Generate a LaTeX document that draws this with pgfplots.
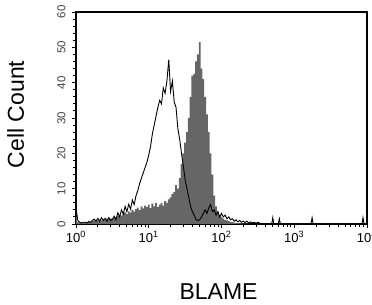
\documentclass[border=0pt]{standalone}
\usepackage{pgfplots}
\pgfplotsset{compat=1.18}
\usepackage{pgfplotstable}
\usepackage{fontspec}
\setmainfont{Liberation Sans}
\definecolor{histgray}{RGB}{102,102,102}
% x values are log10 of the fluorescence intensity
\pgfplotstableread{
lx g b
0.000 2.0 4.5
0.025 0.5 1.0
0.050 0.3 0.5
0.075 0.3 0.3
0.100 0.3 0.5
0.125 0.5 0.5
0.150 0.3 0.3
0.175 0.5 0.7
0.200 0.5 0.5
0.225 0.8 1.0
0.250 1.0 1.4
0.275 0.8 0.8
0.300 1.0 1.6
0.325 1.2 0.8
0.350 1.0 1.8
0.375 1.3 1.0
0.400 1.2 1.6
0.425 1.5 0.8
0.450 1.3 1.8
0.475 1.6 1.0
0.500 1.5 1.3
0.525 1.8 2.2
0.550 2.0 1.2
0.575 2.2 3.2
0.600 2.5 2.0
0.625 2.4 4.0
0.650 3.0 2.8
0.675 3.3 5.0
0.700 2.8 3.5
0.725 3.6 5.6
0.750 3.2 4.2
0.775 4.0 6.8
0.800 3.5 5.5
0.825 4.2 8.0
0.850 4.6 9.5
0.875 4.0 11.5
0.900 5.0 13.0
0.925 4.4 14.5
0.950 5.2 16.0
0.975 4.8 17.5
1.000 5.5 19.5
1.025 4.5 22.0
1.050 5.8 25.5
1.075 5.0 28.0
1.100 6.0 30.5
1.125 4.8 33.0
1.150 5.5 35.0
1.175 6.0 34.0
1.200 5.2 38.5
1.225 6.5 37.0
1.250 6.0 40.5
1.275 7.0 46.5
1.300 7.5 37.5
1.325 8.5 40.5
1.350 9.0 34.5
1.375 11.0 33.0
1.400 10.0 27.0
1.425 13.0 24.0
1.450 17.0 20.0
1.475 20.0 16.5
1.500 23.0 12.5
1.525 26.0 10.0
1.550 30.0 7.5
1.575 36.0 5.0
1.600 42.0 3.5
1.625 42.5 2.5
1.650 46.0 1.2
1.675 48.0 1.0
1.700 51.5 1.2
1.725 44.0 2.0
1.750 41.0 3.0
1.775 36.0 4.0
1.800 31.0 3.0
1.825 26.0 4.5
1.850 20.0 5.5
1.875 14.0 3.5
1.900 8.0 4.0
1.925 5.0 2.5
1.950 3.5 3.5
1.975 2.5 2.0
2.000 2.0 3.0
2.025 1.5 2.0
2.050 1.2 2.5
2.075 1.0 1.5
2.100 0.8 2.0
2.125 0.6 1.2
2.150 0.5 1.5
2.175 0.4 0.8
2.200 0.3 1.2
2.225 0.3 0.6
2.250 0.2 1.0
2.275 0.2 0.5
2.300 0.1 0.8
2.325 0.1 0.4
2.350 0.1 0.8
2.375 0.0 0.3
2.400 0.0 0.6
2.425 0.0 0.3
2.450 0.0 0.5
2.475 0.0 0.2
2.500 0.0 0.5
2.550 0.0 0.0
2.690 0.0 0.0
2.705 0.0 1.8
2.720 0.0 0.0
2.780 0.0 0.0
2.795 0.0 1.5
2.810 0.0 0.0
3.230 0.0 0.0
3.245 0.0 1.8
3.260 0.0 0.0
3.930 0.0 0.0
3.945 0.0 1.8
3.960 0.0 0.0
4.000 0.0 0.0
}\datatable
\begin{document}
\begin{tikzpicture}
\path[use as bounding box] (-76pt,-81pt) rectangle (296pt,224pt);
\begin{axis}[
  scale only axis,
  width=291pt, height=212pt,
  xmin=0, xmax=4, ymin=0, ymax=60,
  axis line style={line width=1.1pt},
  xtick={0,1,2,3,4},
  xticklabels={10\textsuperscript{0},10\textsuperscript{1},10\textsuperscript{2},10\textsuperscript{3},10\textsuperscript{4}},
  minor xtick={0.301,0.477,0.602,0.699,0.778,0.845,0.903,0.954,
               1.301,1.477,1.602,1.699,1.778,1.845,1.903,1.954,
               2.301,2.477,2.602,2.699,2.778,2.845,2.903,2.954,
               3.301,3.477,3.602,3.699,3.778,3.845,3.903,3.954},
  ytick={0,10,20,30,40,50,60},
  minor ytick={2,4,6,8,12,14,16,18,22,24,26,28,32,34,36,38,42,44,46,48,52,54,56,58},
  tick align=outside,
  xtick pos=bottom, ytick pos=left,
  major tick length=4pt, minor tick length=3pt,
  tick style={line width=0.9pt, black},
  /pgf/number format/assume math mode=true,
  xticklabel style={font=\fontsize{13}{13}\selectfont},
  yticklabel style={font=\fontsize{11.5}{11.5}\selectfont, rotate=90, anchor=south, color=black!75},
  yticklabel shift=3pt,
  xlabel={BLAME},
  ylabel={Cell Count},
  xlabel style={font=\fontsize{23}{23}\selectfont, at={(axis description cs:0.49,-0.356)}, anchor=base},
  ylabel style={font=\fontsize{23}{23}\selectfont, at={(axis description cs:-0.1787,0.517)}, anchor=base},
  clip=true,
]
\addplot[const plot mark mid, fill=histgray, draw=none] table[x=lx, y=g] {\datatable} \closedcycle;
\addplot[black, line width=0.9pt] table[x=lx, y=b] {\datatable};
\end{axis}
\end{tikzpicture}
\end{document}
